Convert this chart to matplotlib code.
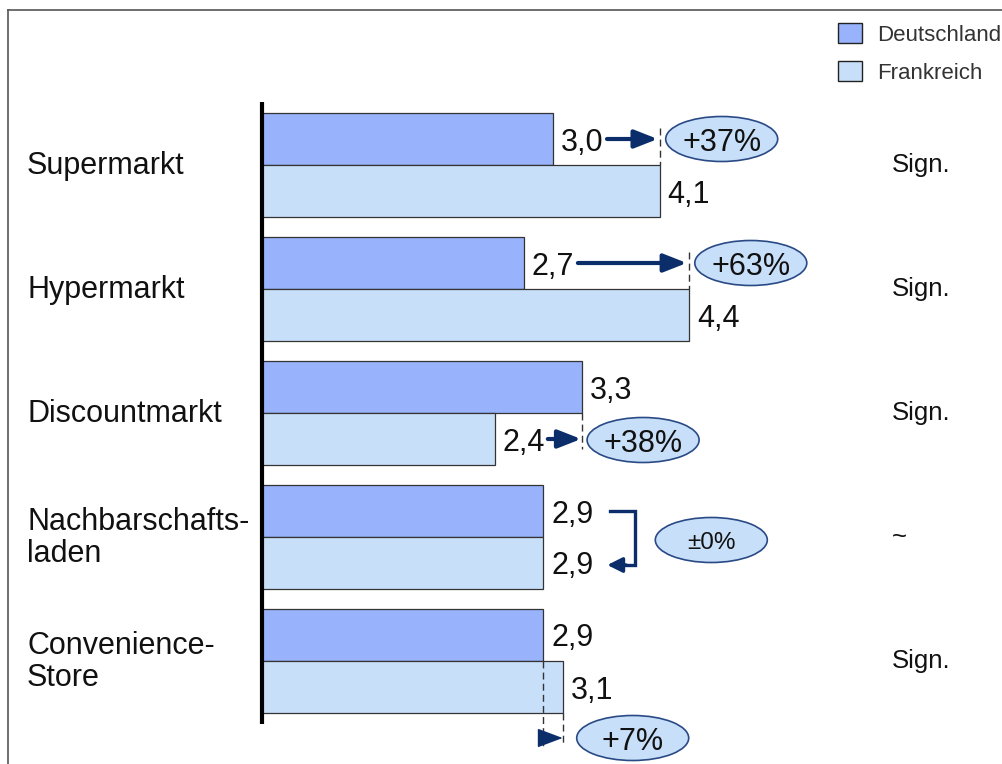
import matplotlib
matplotlib.use("Agg")
import matplotlib.pyplot as plt
from matplotlib.patches import Ellipse
from matplotlib.lines import Line2D

plt.rcParams['font.family'] = ['Liberation Sans', 'DejaVu Sans']

# ---- data ----
categories = ["Supermarkt", "Hypermarkt", "Discountmarkt", "Nachbarschafts-\nladen", "Convenience-\nStore"]
deutschland = [3.0, 2.7, 3.3, 2.9, 2.9]
frankreich = [4.1, 4.4, 2.4, 2.9, 3.1]
changes = ["+37%", "+63%", "+38%", "\u00b10%", "+7%"]
significance = ["Sign.", "Sign.", "Sign.", "~", "Sign."]
series_names = ["Deutschland", "Frankreich"]

# ---- styles ----
C_DE = "#98B3FB"
C_FR = "#C8DFF9"
C_EDGE = "#333333"
C_NAVY = "#0B2E6B"
C_ELL_EDGE = "#2A4A86"

W, H = 1003, 764
DPI = 100
PXX = 97.0    # pixels per value unit
PXY = 124.0   # pixels per category
X0 = 262.0    # pixel x of value 0
Y0 = 165.0    # pixel y of first category center

fig = plt.figure(figsize=(W / DPI, H / DPI), dpi=DPI)
ax = fig.add_axes([0, 0, 1, 1])
ax.set_xlim(-X0 / PXX, (W - X0) / PXX)
ax.set_ylim((H - Y0) / PXY, -Y0 / PXY)
ax.axis("off")

def dx(p):
    return p / PXX

def dy(p):
    return p / PXY

bh = 52 / PXY
ypos = list(range(len(categories)))
y_de = [y - bh / 2 for y in ypos]
y_fr = [y + bh / 2 for y in ypos]

ax.barh(y_de, deutschland, height=bh, color=C_DE, edgecolor=C_EDGE, linewidth=0.9, label=series_names[0], zorder=2)
ax.barh(y_fr, frankreich, height=bh, color=C_FR, edgecolor=C_EDGE, linewidth=0.9, label=series_names[1], zorder=2)

# axis line
ax.plot([0, 0], [-dy(165 - 102), 4 + dy(724 - 661)], color="black", lw=3, solid_capstyle="butt", zorder=3)

FS = 22
fmt = lambda v: f"{v:.1f}".replace(".", ",")

for i, cat in enumerate(categories):
    ax.text(dx(27 - X0), ypos[i] + dy(1), cat, fontsize=FS, va="center", ha="left", color="#111111", linespacing=1.12)
    ax.text(deutschland[i] + dx(8), y_de[i], fmt(deutschland[i]), fontsize=FS, va="center_baseline", ha="left", color="#111111")
    ax.text(frankreich[i] + dx(8), y_fr[i], fmt(frankreich[i]), fontsize=FS, va="center_baseline", ha="left", color="#111111")
    ax.text(dx(892 - X0), ypos[i], significance[i], fontsize=18.5, va="center", ha="left", color="#111111")

def ellipse(xc, yc, text, fs=FS):
    e = Ellipse((xc, yc), dx(112), dy(45), facecolor=C_FR, edgecolor=C_ELL_EDGE, lw=1.2, zorder=4)
    ax.add_patch(e)
    ax.text(xc, yc, text, fontsize=fs, ha="center", va="center_baseline", color="#111111", zorder=5)

def arrow(x1, y1, x2, y2, hl=14, hw=5.5, lw=3):
    ax.annotate("", xy=(x2, y2), xytext=(x1, y1),
                arrowprops=dict(arrowstyle=f"-|>,head_length={hl},head_width={hw}",
                                color=C_NAVY, lw=lw, shrinkA=0, shrinkB=0, mutation_scale=1),
                zorder=5)

def dashed(x, y1, y2):
    ax.plot([x, x], [y1, y2], color="#333333", lw=1.0, ls=(0, (5, 3)), zorder=5)

# groups 0, 1: France higher, arrow on German row
for i in (0, 1):
    d, f = deutschland[i], frankreich[i]
    arrow(d + dx(54), y_de[i], f - dx(2), y_de[i])
    dashed(f, y_de[i] - dy(11), ypos[i])
    ellipse(f + dx(62), y_de[i], changes[i])

# group 2: Germany higher, arrow on French row
i = 2
d, f = deutschland[i], frankreich[i]
arrow(f + dx(53), y_fr[i], d - dx(1), y_fr[i])
dashed(d, ypos[i], y_fr[i] + dy(10))
ellipse(d + dx(61), y_fr[i] + dy(1), changes[i])

# group 3: equal -> bracket
i = 3
d, f = deutschland[i], frankreich[i]
xb0 = d + dx(67)
xb1 = d + dx(92)
ax.plot([xb0, xb1, xb1, xb0 + dx(14)], [y_de[i], y_de[i], y_fr[i] + dy(2), y_fr[i] + dy(2)],
        color=C_NAVY, lw=2.4, solid_joinstyle="miter", zorder=5)
arrow(xb0 + dx(16), y_fr[i] + dy(2), xb0 - dx(3), y_fr[i] + dy(2), hl=9, hw=4.5, lw=2.4)
ellipse(d + dx(168), ypos[i] + dy(3), changes[i], fs=17.5)

# group 4: small increase, arrow below bars
i = 4
d, f = deutschland[i], frankreich[i]
ybelow = y_fr[i] + bh / 2 + dy(25)
dashed(d, ypos[i], ybelow + dy(8))
dashed(f, y_fr[i] + bh / 2, ybelow + dy(8))
arrow(d, ybelow, f, ybelow, hl=16, hw=6, lw=1)
ellipse(f + dx(70), ybelow, changes[i])

# legend
leg = ax.legend(loc="upper left", bbox_to_anchor=(838 / W, 1 - 23 / H), frameon=False,
                fontsize=16, handlelength=1.1, handleheight=1.0, handletextpad=0.65,
                labelspacing=0.7, borderaxespad=0, borderpad=0)
for t in leg.get_texts():
    t.set_color("#333333")
for h in leg.legend_handles:
    h.set_edgecolor("#222222")
    h.set_linewidth(1.0)

# outer frame (top and left)
fig.add_artist(Line2D([8 / W, 1], [1 - 10 / H, 1 - 10 / H], transform=fig.transFigure, color="#555555", lw=1.2))
fig.add_artist(Line2D([8 / W, 8 / W], [0, 1 - 10 / H], transform=fig.transFigure, color="#555555", lw=1.2))

fig.savefig("out.png", dpi=DPI)
